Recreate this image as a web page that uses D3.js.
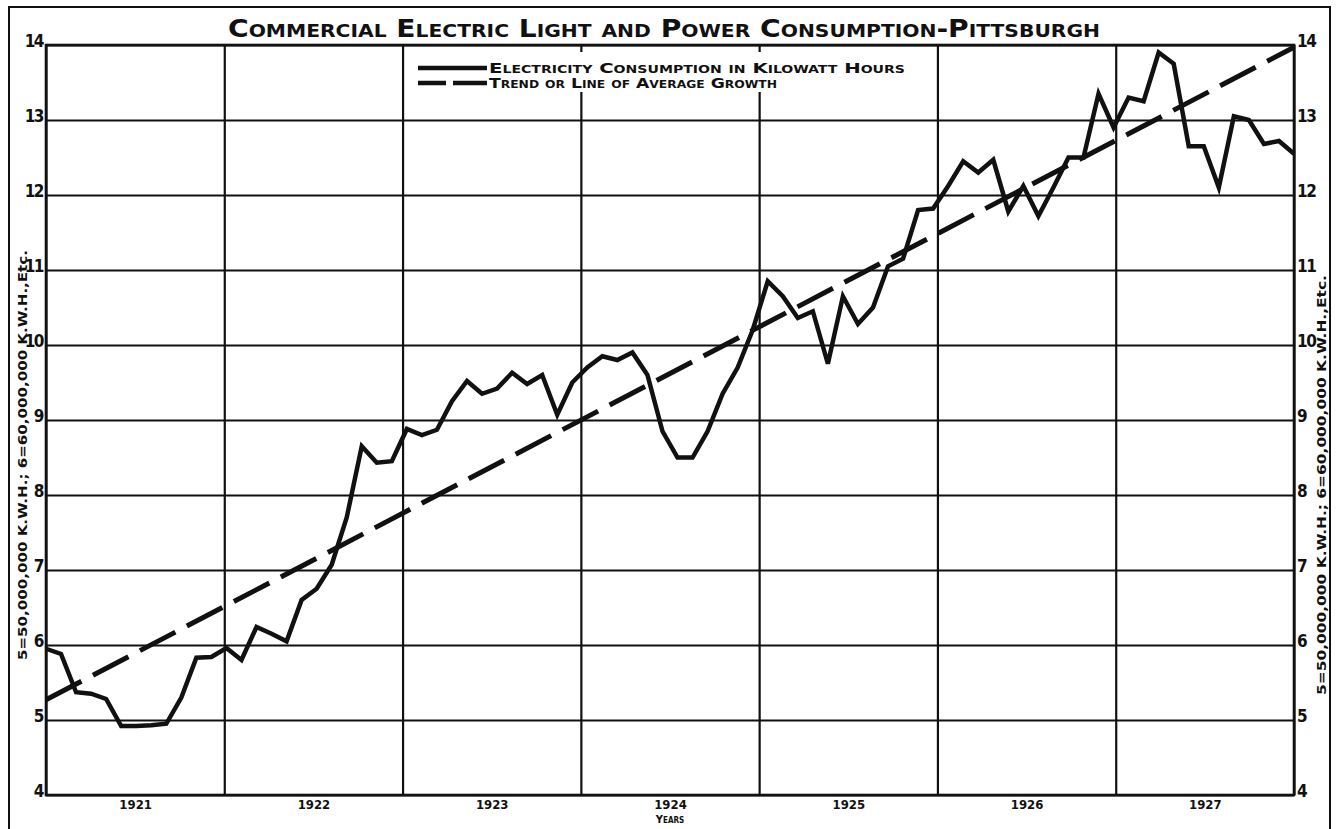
<!DOCTYPE html>
<html>
<head>
<meta charset="utf-8">
<script src="https://cdn.jsdelivr.net/npm/d3@7"></script>
<style>
  html, body { margin: 0; padding: 0; background: #fff; }
  svg { display: block; }
  text { font-family: "DejaVu Sans Condensed", "Liberation Sans Narrow", "DejaVu Sans", sans-serif; fill: #111; font-weight: bold; }
</style>
</head>
<body>
<svg id="chart" width="1338" height="829"></svg>
<script>
// ---- data ----
const years = [1921, 1922, 1923, 1924, 1925, 1926, 1927];
const yTicks = [4, 5, 6, 7, 8, 9, 10, 11, 12, 13, 14];
// monthly consumption, Jan 1921 .. Dec 1927 (units: 10,000,000 kWh)
const consumption = [
  5.95, 5.88, 5.37, 5.35, 5.28, 4.92, 4.92, 4.93, 4.95, 5.30, 5.83, 5.84,
  5.96, 5.80, 6.24, 6.15, 6.05, 6.60, 6.75, 7.07, 7.70, 8.65, 8.43, 8.45,
  8.88, 8.80, 8.87, 9.25, 9.52, 9.35, 9.42, 9.63, 9.48, 9.60, 9.07, 9.50,
  9.70, 9.85, 9.80, 9.90, 9.60, 8.85, 8.50, 8.50, 8.85, 9.35, 9.70, 10.20,
  10.85, 10.65, 10.36, 10.45, 9.75, 10.65, 10.28, 10.50, 11.05, 11.15, 11.80, 11.82,
  12.12, 12.45, 12.30, 12.47, 11.78, 12.12, 11.72, 12.10, 12.50, 12.50, 13.35, 12.90,
  13.30, 13.25, 13.90, 13.75, 12.65, 12.65, 12.10, 13.05, 13.00, 12.68, 12.72, 12.55
];
// trend line: value at first and last month
const trendStart = 5.27;
const trendEnd = 13.97;
const title = "Commercial Electric Light and Power Consumption-Pittsburgh";
const legendLabels = ["Electricity Consumption in Kilowatt Hours", "Trend or Line of Average Growth"];
const sideLabel = "5=50,000,000 K.W.H.; 6=60,000,000 K.W.H.,Etc.";
const xAxisTitle = "Years";

// ---- layout ----
const L = 46, R = 1294, T = 45, B = 795;
const svg = d3.select("#chart");

const x = d3.scaleLinear().domain([0, consumption.length - 1]).range([L, R]);
const xYear = d3.scaleLinear().domain([years[0], years[years.length - 1] + 1]).range([L, R]);
const y = d3.scaleLinear().domain([4, 14]).range([B, T]);

// outer frame
svg.append("path")
  .attr("d", `M9,829 L9,7 L1330,7 L1330,829`)
  .attr("fill", "none").attr("stroke", "#111").attr("stroke-width", 2);

// horizontal gridlines
const gy = svg.append("g").attr("transform", `translate(${L},0)`)
  .call(d3.axisLeft(y).tickValues(yTicks).tickSize(-(R - L)).tickFormat(""));
gy.select(".domain").remove();
gy.selectAll("line").attr("stroke", "#111").attr("stroke-width", 2.2);

// vertical gridlines at year boundaries
const gx = svg.append("g").attr("transform", `translate(0,${B})`)
  .call(d3.axisBottom(xYear).tickValues(d3.range(years[0], years[years.length - 1] + 2)).tickSize(-(B - T)).tickFormat(""));
gx.select(".domain").remove();
gx.selectAll("line").attr("stroke", "#111").attr("stroke-width", 2.2);

// plot border
svg.append("rect").attr("x", L).attr("y", T).attr("width", R - L).attr("height", B - T)
  .attr("fill", "none").attr("stroke", "#111").attr("stroke-width", 2.6);

// left and right y labels
const yl = svg.append("g").attr("transform", `translate(${L},0)`)
  .call(d3.axisLeft(y).tickValues(yTicks).tickSize(0).tickPadding(3).tickFormat(d3.format("d")));
yl.select(".domain").remove();
yl.selectAll("text").style("font-size", "17px").attr("dy", "0.1em").style("letter-spacing", "-1.5px");
const yr = svg.append("g").attr("transform", `translate(${R},0)`)
  .call(d3.axisRight(y).tickValues(yTicks).tickSize(0).tickPadding(3).tickFormat(d3.format("d")));
yr.select(".domain").remove();
yr.selectAll("text").style("font-size", "17px").attr("dy", "0.1em").style("letter-spacing", "-1.5px");

// year labels
const xl = svg.append("g").attr("transform", `translate(0,${B})`)
  .call(d3.axisBottom(xYear).tickValues(years.map(v => v + 0.5)).tickSize(0).tickPadding(5)
    .tickFormat(d => String(Math.floor(d))));
xl.select(".domain").remove();
xl.selectAll("text").style("font-size", "13px");

svg.append("text").attr("x", xYear(1924.5)).attr("y", 823).attr("text-anchor", "middle")
  .style("font-size", "11px").style("font-variant", "small-caps").text(xAxisTitle);

// rotated side labels
svg.append("text").attr("transform", `translate(27,${455}) rotate(-90)`).attr("text-anchor", "middle")
  .style("font-size", "12.5px").attr("textLength", 410).attr("lengthAdjust", "spacingAndGlyphs").text(sideLabel);
svg.append("text").attr("transform", `translate(1326,${485}) rotate(-90)`).attr("text-anchor", "middle")
  .style("font-size", "12.5px").attr("textLength", 420).attr("lengthAdjust", "spacingAndGlyphs").text(sideLabel);

// title
svg.append("text").attr("x", 228).attr("y", 37)
  .style("font-size", "25px").style("font-variant", "small-caps").style("font-weight", "bold")
  .attr("textLength", 872).attr("lengthAdjust", "spacingAndGlyphs").text(title);

// trend line (dashed)
const trendData = [{ i: 0, v: trendStart }, { i: consumption.length - 1, v: trendEnd }];
svg.append("path").datum(trendData)
  .attr("d", d3.line().x(d => x(d.i)).y(d => y(d.v)))
  .attr("fill", "none").attr("stroke", "#111").attr("stroke-width", 5)
  .attr("stroke-dasharray", "40,13");

// consumption line
svg.append("path").datum(consumption)
  .attr("d", d3.line().x((d, i) => x(i)).y(d => y(d)))
  .attr("fill", "none").attr("stroke", "#111").attr("stroke-width", 4.5)
  .attr("stroke-linejoin", "miter");

// legend
const leg = svg.append("g");
leg.append("rect").attr("x", 413).attr("y", 52).attr("width", 486).attr("height", 40).attr("fill", "#fff");
leg.append("line").attr("x1", 418).attr("x2", 487).attr("y1", 68).attr("y2", 68)
  .attr("stroke", "#111").attr("stroke-width", 4.5);
leg.append("line").attr("x1", 418).attr("x2", 487).attr("y1", 83).attr("y2", 83)
  .attr("stroke", "#111").attr("stroke-width", 4.5).attr("stroke-dasharray", "28,7,34");
leg.append("text").attr("x", 489).attr("y", 73).style("font-size", "14px").style("font-variant", "small-caps")
  .attr("textLength", 416).attr("lengthAdjust", "spacingAndGlyphs").text(legendLabels[0]);
leg.append("text").attr("x", 489).attr("y", 88).style("font-size", "14px").style("font-variant", "small-caps")
  .attr("textLength", 288).attr("lengthAdjust", "spacingAndGlyphs").text(legendLabels[1]);
</script>
</body>
</html>
